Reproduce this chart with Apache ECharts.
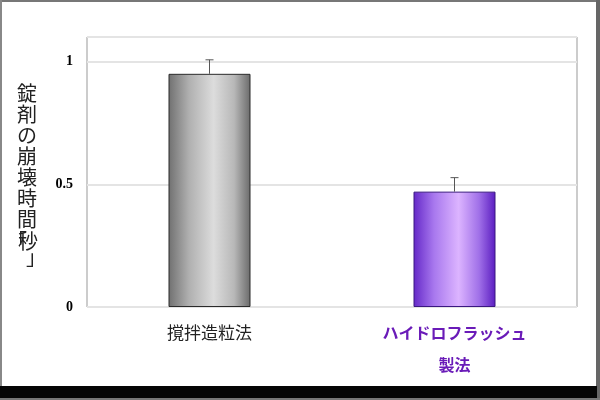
<!DOCTYPE html>
<html>
<head>
<meta charset="utf-8">
<script src="https://cdn.jsdelivr.net/npm/echarts@6/dist/echarts.min.js"></script>
<style>
html,body{margin:0;padding:0;background:#fff;}
#chart{width:600px;height:400px;}
</style>
</head>
<body>
<div id="chart"></div>
<script>
var categories = ['撹拌造粒法', 'ハイドロフラッシュ\n製法'];
var values = [0.95, 0.47];
var errors = [0.057, 0.057];
var yTicks = [0, 0.5, 1];

var chart = echarts.init(document.getElementById('chart'));

var grayGrad = new echarts.graphic.LinearGradient(0, 0, 1, 0, [
  {offset: 0, color: '#707070'},
  {offset: 0.25, color: '#b0b0b0'},
  {offset: 0.55, color: '#dcdcdc'},
  {offset: 0.8, color: '#b8b8b8'},
  {offset: 1, color: '#6a6a6a'}
]);
var purpleGrad = new echarts.graphic.LinearGradient(0, 0, 1, 0, [
  {offset: 0, color: '#6428c8'},
  {offset: 0.25, color: '#a878ee'},
  {offset: 0.55, color: '#dcb4ff'},
  {offset: 0.8, color: '#a070e8'},
  {offset: 1, color: '#5a1cc0'}
]);
var barStyles = [
  {color: grayGrad, borderColor: '#2a2a2a', borderWidth: 1},
  {color: purpleGrad, borderColor: '#3a1880', borderWidth: 1}
];
var labelStyles = [
  {color: '#222', fontSize: 17, fontWeight: 'normal'},
  {color: '#6a1bb8', fontSize: 16, fontWeight: 'bold'}
];
var jp = '"Noto Sans CJK JP", sans-serif';

var option = {
  animation: false,
  graphic: [
    {type: 'rect', shape: {x: 0, y: 0, width: 600, height: 2}, style: {fill: '#777'}, silent: true},
    {type: 'rect', shape: {x: 0, y: 0, width: 2, height: 400}, style: {fill: '#888'}, silent: true},
    {type: 'rect', shape: {x: 596, y: 0, width: 4, height: 400}, style: {fill: '#666'}, silent: true},
    {type: 'rect', shape: {x: 0, y: 386, width: 597, height: 12}, style: {fill: '#050505'}, silent: true},
    {type: 'rect', shape: {x: 0, y: 398, width: 600, height: 2}, style: {fill: '#777'}, silent: true}
  ],
  grid: {
    left: 87, top: 37, width: 490, height: 270,
    show: true, borderColor: '#999', borderWidth: 1, backgroundColor: '#fff'
  },
  xAxis: {
    type: 'category',
    data: categories.map(function (c, i) {
      return {value: c, textStyle: labelStyles[i]};
    }),
    axisLine: {show: false},
    axisTick: {show: false},
    axisLabel: {
      margin: 10,
      lineHeight: 32,
      fontFamily: jp,
      interval: 0
    }
  },
  yAxis: {
    type: 'value',
    min: 0,
    max: 1.1,
    interval: 0.5,
    axisLine: {show: false},
    axisTick: {show: false},
    splitLine: {lineStyle: {color: '#e4e4e4', width: 2}},
    axisLabel: {
      margin: 14,
      fontFamily: '"Liberation Serif", serif',
      fontWeight: 'bold',
      fontSize: 14,
      color: '#000',
      formatter: function (v) {
        for (var i = 0; i < yTicks.length; i++) {
          if (Math.abs(v - yTicks[i]) < 1e-9) return String(yTicks[i]);
        }
        return '';
      }
    },
    name: '錠\n剤\nの\n崩\n壊\n時\n間\n{s|「}{m|秒}\n{z| }{e|」}',
    nameLocation: 'middle',
    nameRotate: 0,
    nameGap: 60,
    nameTextStyle: {
      fontFamily: jp,
      fontSize: 20,
      lineHeight: 21,
      color: '#222',
      align: 'center',
      rich: {
        s: {fontSize: 20, lineHeight: 24, width: 2, align: 'center', fontFamily: jp, color: '#222'},
        m: {fontSize: 20, lineHeight: 24, fontFamily: jp, color: '#222'},
        z: {fontSize: 18, lineHeight: 8, width: 18, fontFamily: jp, color: '#222'},
        e: {fontSize: 20, lineHeight: 8, width: 2, align: 'center', fontFamily: jp, color: '#222'}
      }
    }
  },
  series: [
    {
      type: 'bar',
      barWidth: 82,
      data: values.map(function (v, i) {
        return {value: v, itemStyle: barStyles[i]};
      }),
      z: 2
    },
    {
      type: 'custom',
      z: 3,
      data: values.map(function (v, i) { return [i, v, errors[i]]; }),
      renderItem: function (params, api) {
        var x = api.value(0);
        var v = api.value(1);
        var e = api.value(2);
        var p0 = api.coord([x, v]);
        var p1 = api.coord([x, v + e]);
        var style = {stroke: '#555', lineWidth: 1};
        return {
          type: 'group',
          children: [
            {type: 'line', shape: {x1: p0[0], y1: p0[1], x2: p1[0], y2: p1[1]}, style: style},
            {type: 'line', shape: {x1: p1[0] - 4, y1: p1[1], x2: p1[0] + 4, y2: p1[1]}, style: style}
          ]
        };
      }
    }
  ]
};
chart.setOption(option);
</script>
</body>
</html>
